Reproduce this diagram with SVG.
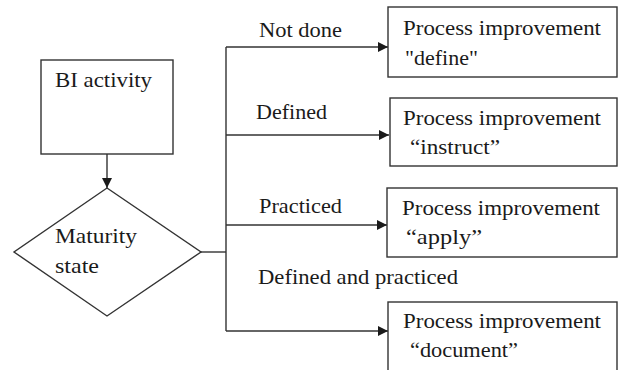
<svg xmlns="http://www.w3.org/2000/svg" width="618" height="370" viewBox="0 0 618 370">
<style>
.box{fill:#fff;stroke:#333;stroke-width:1.4}
.ln{fill:none;stroke:#333;stroke-width:1.4}
</style>
<defs>
<marker id="ah" viewBox="0 0 10 10" refX="10" refY="5" markerWidth="10" markerHeight="10" markerUnits="userSpaceOnUse" orient="auto">
<path d="M0,0 L10,5 L0,10 Z" fill="#1a1a1a"/>
</marker>
</defs>
<rect width="618" height="370" fill="#fff"/>
<g id="connectors">
<line class="ln" x1="107" y1="154" x2="107" y2="188" marker-end="url(#ah)"/>
<line class="ln" x1="201" y1="252" x2="226" y2="252"/>
<line class="ln" x1="226" y1="47" x2="226" y2="331"/>
<line class="ln" x1="226" y1="47" x2="388" y2="47" marker-end="url(#ah)"/>
<line class="ln" x1="226" y1="135" x2="389" y2="135" marker-end="url(#ah)"/>
<line class="ln" x1="226" y1="225" x2="387" y2="225" marker-end="url(#ah)"/>
<line class="ln" x1="226" y1="331" x2="388" y2="331" marker-end="url(#ah)"/>
<text x="259" y="37" font-family="Liberation Serif" font-size="22" fill="#1a1a1a" textLength="83" lengthAdjust="spacingAndGlyphs">Not done</text>
<text x="256" y="119" font-family="Liberation Serif" font-size="22" fill="#1a1a1a" textLength="71" lengthAdjust="spacingAndGlyphs">Defined</text>
<text x="259" y="213" font-family="Liberation Serif" font-size="22" fill="#1a1a1a" textLength="83" lengthAdjust="spacingAndGlyphs">Practiced</text>
<text x="258" y="284" font-family="Liberation Serif" font-size="22" fill="#1a1a1a" textLength="200" lengthAdjust="spacingAndGlyphs">Defined and practiced</text>
</g>
<g id="bi">
<rect class="box" x="41" y="60" width="132" height="94"/>
<text x="55" y="87" font-family="Liberation Serif" font-size="22" fill="#1a1a1a" textLength="97" lengthAdjust="spacingAndGlyphs">BI activity</text>
</g>
<g id="maturity">
<polygon class="box" points="107,188 201,252 107,316 14,252"/>
<text x="55" y="243" font-family="Liberation Serif" font-size="22" fill="#1a1a1a" textLength="82" lengthAdjust="spacingAndGlyphs">Maturity</text>
<text x="55" y="273" font-family="Liberation Serif" font-size="22" fill="#1a1a1a" textLength="44" lengthAdjust="spacingAndGlyphs">state</text>
</g>
<g id="define">
<rect class="box" x="388" y="7" width="229" height="70"/>
<text x="403" y="35" font-family="Liberation Serif" font-size="22" fill="#1a1a1a" textLength="198" lengthAdjust="spacingAndGlyphs">Process improvement</text>
<text x="405" y="65" font-family="Liberation Serif" font-size="22" fill="#1a1a1a">"define"</text>
</g>
<g id="instruct">
<rect class="box" x="390" y="98" width="227" height="68"/>
<text x="403" y="125" font-family="Liberation Serif" font-size="22" fill="#1a1a1a" textLength="198" lengthAdjust="spacingAndGlyphs">Process improvement</text>
<text x="410" y="154" font-family="Liberation Serif" font-size="22" fill="#1a1a1a" textLength="90" lengthAdjust="spacingAndGlyphs">“instruct”</text>
</g>
<g id="apply">
<rect class="box" x="387" y="188" width="230" height="69"/>
<text x="402" y="215" font-family="Liberation Serif" font-size="22" fill="#1a1a1a" textLength="198" lengthAdjust="spacingAndGlyphs">Process improvement</text>
<text x="406" y="244" font-family="Liberation Serif" font-size="22" fill="#1a1a1a" textLength="76" lengthAdjust="spacingAndGlyphs">“apply”</text>
</g>
<g id="document">
<rect class="box" x="388" y="302" width="229" height="80"/>
<text x="403" y="328" font-family="Liberation Serif" font-size="22" fill="#1a1a1a" textLength="198" lengthAdjust="spacingAndGlyphs">Process improvement</text>
<text x="410" y="357" font-family="Liberation Serif" font-size="22" fill="#1a1a1a" textLength="108" lengthAdjust="spacingAndGlyphs">“document”</text>
</g>
</svg>
